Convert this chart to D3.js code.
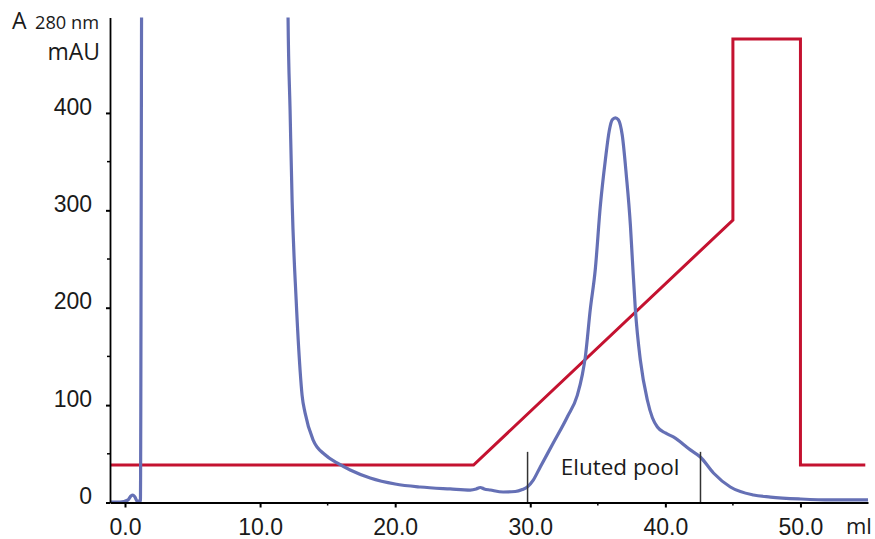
<!DOCTYPE html>
<html>
<head>
<meta charset="utf-8">
<script src="https://cdn.jsdelivr.net/npm/d3@7"></script>
<style>
  body { margin: 0; background: #fff; }
  svg { display: block; font-family: 'Open Sans', sans-serif; }
</style>
</head>
<body>
<div id="viz"></div>
<script>
'use strict';

// UV absorbance trace (ml, mAU)
const uvMl = [-1.11, -0.37, 0.22, 0.44, 0.59, 0.74, 0.89, 1.14, 1.26, 12.0,
  12.07, 12.22, 12.37, 12.67, 12.96, 13.11, 13.33, 13.93, 14.81, 15.70, 16.67,
  18.15, 20.0, 21.85, 24.07, 25.56, 26.0, 26.30, 26.59, 27.04, 28.0, 28.89,
  29.41, 29.78, 30.22, 30.74, 31.70, 32.74, 33.48, 33.85, 34.07, 34.44, 34.81,
  35.19, 35.56, 35.85, 36.07, 36.30, 36.52, 36.81, 37.11, 37.41, 37.56, 37.78,
  38.15, 38.67, 39.04, 39.41, 40.0, 40.59, 41.85, 42.59, 43.56, 44.81, 46.52,
  47.78, 50.0, 52.2, 55.0];
const uvMau = [0.5, 0.5, 2.6, 6.7, 7.7, 5.6, 1.5, 1.5, 620, 620,
  498, 403, 310, 208, 136, 110, 92, 64, 49, 40.6, 33.4,
  25.2, 19, 15.9, 13.9, 12.8, 13.9, 15.4, 13.9, 12.8, 10.8, 11.3,
  13.3, 15.9, 23, 36.5, 61, 87.8, 110, 131, 149, 198, 239,
  305, 352, 382, 393, 395, 393, 377, 336, 285, 249, 198,
  146, 105, 87, 77.5, 71.4, 67.3, 54, 46.7, 30.3, 15.9, 7.7,
  5.6, 3.6, 2.6, 2.6];

// gradient trace (ml, same scale)
const gradMl = [-1.11, 25.8, 45.0, 45.0, 50.0, 50.0, 54.8];
const gradVal = [38.5, 38.5, 290, 476, 476, 38.5, 38.5];

// ticks and pool
const yTicks = [0, 100, 200, 300, 400];
const yMinor = [50, 150, 250, 350];
const xTicks = [0, 10, 20, 30, 40, 50];
const xMinor = [15, 35, 45];
const poolStart = 29.8;
const poolEnd = 42.6;
const poolMarkTop = 52;

const width = 875, height = 539;
const uvColor = '#6570b5';
const gradColor = '#c41230';
const textColor = '#1a1a1a';

const svg = d3.select('#viz').append('svg')
  .attr('width', width)
  .attr('height', height);

const x = d3.scaleLinear().domain([-1.11, 55.0]).range([110, 868]);
const y = d3.scaleLinear().domain([0, 498]).range([502.5, 17.5]);

svg.append('clipPath').attr('id', 'plot-clip')
  .append('rect')
  .attr('x', x.range()[0]).attr('y', y.range()[1])
  .attr('width', x.range()[1] - x.range()[0])
  .attr('height', y.range()[0] - y.range()[1]);

// gradient
const gradData = gradMl.map((d, i) => [d, gradVal[i]]);
svg.append('path')
  .datum(gradData)
  .attr('fill', 'none')
  .attr('stroke', gradColor)
  .attr('stroke-width', 3)
  .attr('d', d3.line().x(d => x(d[0])).y(d => y(d[1])));

// UV trace
const uvData = uvMl.map((d, i) => [d, uvMau[i]]);
svg.append('path')
  .datum(uvData)
  .attr('clip-path', 'url(#plot-clip)')
  .attr('fill', 'none')
  .attr('stroke', uvColor)
  .attr('stroke-width', 3.2)
  .attr('stroke-linejoin', 'round')
  .attr('d', d3.line().curve(d3.curveMonotoneX).x(d => x(d[0])).y(d => y(d[1])));

// pool markers
svg.selectAll('.pool')
  .data([poolStart, poolEnd])
  .enter().append('line')
  .attr('class', 'pool')
  .attr('x1', d => x(d)).attr('x2', d => x(d))
  .attr('y1', y(poolMarkTop)).attr('y2', y(0))
  .attr('stroke', '#333')
  .attr('stroke-width', 1.5);

svg.append('text')
  .attr('x', x(36.65))
  .attr('y', y(28.2))
  .attr('text-anchor', 'middle')
  .style('font-size', '22.5px')
  .attr('fill', textColor)
  .text('Eluted pool');

// y axis
const yAxis = svg.append('g')
  .attr('transform', `translate(${x.range()[0]},0)`)
  .call(d3.axisLeft(y).tickValues(yTicks).tickSize(4).tickSizeOuter(0).tickPadding(14));
yAxis.selectAll('text').attr('dy', '0.05em').style('font-size', '23px').attr('fill', textColor);
yAxis.select('.domain').attr('stroke-width', 1.8);
yAxis.selectAll('.tick line').attr('stroke-width', 2);
yAxis.selectAll('.minor')
  .data(yMinor)
  .enter().append('line')
  .attr('class', 'minor')
  .attr('x1', -3).attr('x2', 0)
  .attr('y1', d => y(d)).attr('y2', d => y(d))
  .attr('stroke', '#000').attr('stroke-width', 1.5);

// x axis
const xAxis = svg.append('g')
  .attr('transform', `translate(0,${y(0)})`)
  .call(d3.axisBottom(x).tickValues(xTicks).tickFormat(d3.format('.1f'))
    .tickSize(5).tickSizeOuter(0).tickPadding(11));
xAxis.selectAll('text').style('font-size', '23px').attr('fill', textColor);
xAxis.select('.domain').attr('stroke-width', 1.8);
xAxis.selectAll('.tick line').attr('stroke-width', 2);
xAxis.selectAll('.minor')
  .data(xMinor)
  .enter().append('line')
  .attr('class', 'minor')
  .attr('x1', d => x(d)).attr('x2', d => x(d))
  .attr('y1', 0).attr('y2', 3)
  .attr('stroke', '#000').attr('stroke-width', 1.5);

// axis titles
svg.append('text')
  .attr('x', 12).attr('y', 29)
  .style('font-size', '23px')
  .attr('fill', textColor)
  .text('A');

svg.append('text')
  .attr('x', 35).attr('y', 29)
  .attr('textLength', 64)
  .attr('lengthAdjust', 'spacingAndGlyphs')
  .style('font-size', '18px')
  .attr('fill', textColor)
  .text('280 nm');

svg.append('text')
  .attr('x', 100).attr('y', 60)
  .attr('text-anchor', 'end')
  .style('font-size', '23px')
  .attr('fill', textColor)
  .text('mAU');

svg.append('text')
  .attr('x', 846).attr('y', 534)
  .style('font-size', '22px')
  .attr('fill', textColor)
  .text('ml');
</script>
</body>
</html>
